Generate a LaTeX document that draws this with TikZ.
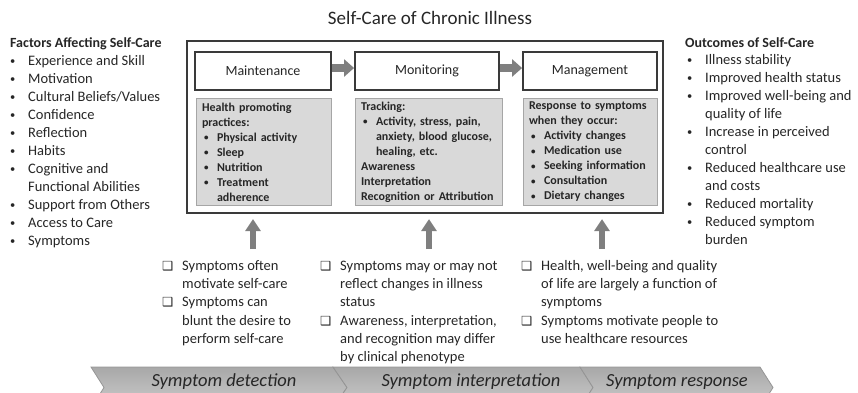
\documentclass[tikz,border=0pt]{standalone}
\usepackage{fontspec}
\setmainfont{Carlito}
\newfontfamily\djv{DejaVu Sans}
\usetikzlibrary{arrows.meta}
\definecolor{txt}{HTML}{262626}
\definecolor{outerc}{HTML}{3A3A3A}
\definecolor{gfill}{HTML}{D9D9D9}
\definecolor{gline}{HTML}{A6A6A6}
\definecolor{arrc}{HTML}{7F7F7F}
\definecolor{bandtop}{HTML}{A8A8A8}
\definecolor{bandbot}{HTML}{CCCCCC}
\definecolor{bandline}{HTML}{959595}
\newcommand{\mybul}{\makebox[19pt][l]{\hspace{1pt}\raisebox{0.8pt}{\fontsize{10.5}{10}\selectfont •}}}
\newcommand{\myind}{\hspace*{19pt}}
\newcommand{\mysbul}{\makebox[15pt][l]{\hspace{2pt}\raisebox{0.6pt}{\fontsize{9}{9}\selectfont •}}}
\newcommand{\mysind}{\hspace*{15pt}}
\newcommand{\mychk}{\makebox[20pt][l]{\raisebox{0pt}{\djv\fontsize{12.5}{10}\selectfont ❑}}}
\newcommand{\mychind}{\hspace*{20pt}}
\tikzset{
  lst/.style={anchor=north west, inner sep=0pt, align=left, text=txt,
    font=\fontsize{14.5}{18}\selectfont},
  blst/.style={anchor=north west, inner sep=0pt, align=left, text=txt,
    font=\fontsize{14.5}{18.3}\selectfont},
  head/.style={anchor=base west, inner sep=0pt, text=txt,
    font=\bfseries\fontsize{14}{16}\selectfont},
  hbox/.style={draw=outerc, line width=1.8pt, fill=white, inner sep=0pt,
    text=txt, font=\fontsize{14}{16}\selectfont},
  gbox/.style={anchor=north west, draw=gline, fill=gfill, line width=1pt,
    inner xsep=5.5pt, inner ysep=0pt, align=left, text=txt,
    minimum height=107pt, font=\bfseries\fontsize{12}{15}\selectfont},
  outerbox/.style={draw=outerc, line width=2.2pt, inner sep=0pt},
  harrow/.style={draw=arrc, line width=8pt, -{Triangle[length=10pt,width=17pt]}},
  uarrow/.style={draw=arrc, line width=6pt, -{Triangle[length=12pt,width=15pt]},
    shorten >=5pt},
  chevshape/.style={draw=bandline, line width=0.8pt, top color=bandtop, bottom color=bandbot},
  chevtext/.style={anchor=base, inner sep=0pt, text=txt,
    font=\itshape\fontsize{18.5}{20}\selectfont},
}
\begin{document}
\begin{tikzpicture}[x=1pt, y=-1pt]
\useasboundingbox (0,0) rectangle (858,392);

% title
\node[text=txt, font=\fontsize{19}{21}\selectfont, inner sep=0pt] (title) at (430,18) {Self-Care of Chronic Illness};

% left column
\node[head] (lefthead) at (10,47) {Factors Affecting Self-Care};
\node[lst] (leftlist) at (9,52.4) {\strut\mybul Experience and Skill\\
\mybul Motivation\\
\mybul Cultural Beliefs/Values\\
\mybul Confidence\\
\mybul Reflection\\
\mybul Habits\\
\mybul Cognitive and\\
\myind Functional Abilities\\
\mybul Support from Others\\
\mybul Access to Care\\
\mybul Symptoms};

% right column
\node[head] (righthead) at (685,47) {Outcomes of Self-Care};
\node[lst] (rightlist) at (686,51.4) {\strut\mybul Illness stability\\
\mybul Improved health status\\
\mybul Improved well-being and\\
\myind quality of life\\
\mybul Increase in perceived\\
\myind control\\
\mybul Reduced healthcare use\\
\myind and costs\\
\mybul Reduced mortality\\
\mybul Reduced symptom\\
\myind burden};

% outer frame
\node[outerbox, minimum width=476pt, minimum height=172pt] (outer) at (425,127) {};

% header boxes
\node[hbox, minimum width=136pt, minimum height=38pt] (maint) at (263,71) {Maintenance};
\node[hbox, minimum width=144pt, minimum height=38pt] (monit) at (427,71) {Monitoring};
\node[hbox, minimum width=134pt, minimum height=38pt] (manag) at (590,71) {Management};

\draw[harrow] ([yshift=3pt]maint.east) -- ([yshift=3pt]monit.west);
\draw[harrow] ([yshift=3pt]monit.east) -- ([yshift=3pt]manag.west);

% gray boxes
\node[gbox, text width=124pt] (mbox) at (196,98) {Health promoting\\
practices:\\
\mysbul Physical activity\\
\mysbul Sleep\\
\mysbul Nutrition\\
\mysbul Treatment\\
\mysind adherence};
\node[gbox, text width=136pt] (tbox) at (355,98) {Tracking:\\
\mysbul Activity, stress, pain,\\
\mysind anxiety, blood glucose,\\
\mysind healing, etc.\\
Awareness\\
Interpretation\\
Recognition or Attribution};
\node[gbox, text width=123pt] (rbox) at (523,98) {Response to symptoms\\
when they occur:\\
\mysbul Activity changes\\
\mysbul Medication use\\
\mysbul Seeking information\\
\mysbul Consultation\\
\mysbul Dietary changes};

% up arrows
\coordinate (u1) at (253,249);
\coordinate (u2) at (429,249);
\coordinate (u3) at (602,249);
\draw[uarrow] (u1) -- (u1 |- outer.south);
\draw[uarrow] (u2) -- (u2 |- outer.south);
\draw[uarrow] (u3) -- (u3 |- outer.south);

% bottom notes
\node[blst] (note1) at (162,257.2) {\strut\mychk Symptoms often\\
\mychind motivate self-care\\
\mychk Symptoms can\\
\mychind blunt the desire to\\
\mychind perform self-care};
\node[blst] (note2) at (320,257.2) {\strut\mychk Symptoms may or may not\\
\mychind reflect changes in illness\\
\mychind status\\
\mychk Awareness, interpretation,\\
\mychind and recognition may differ\\
\mychind by clinical phenotype};
\node[blst] (note3) at (521,257.2) {\strut\mychk Health, well-being and quality\\
\mychind of life are largely a function of\\
\mychind symptoms\\
\mychk Symptoms motivate people to\\
\mychind use healthcare resources};

% chevron band
\path[chevshape] (91,367) -- (333,367) -- (347,387.5) -- (333,408) -- (91,408) -- (104,387.5) -- cycle;
\path[chevshape] (333,367) -- (580,367) -- (593,387.5) -- (580,408) -- (333,408) -- (347,387.5) -- cycle;
\path[chevshape] (580,367) -- (760,367) -- (773,387.5) -- (760,408) -- (580,408) -- (593,387.5) -- cycle;
\node[chevtext] (c1) at (224,386) {Symptom detection};
\node[chevtext] (c2) at (471,386) {Symptom interpretation};
\node[chevtext] (c3) at (677,386) {Symptom response};
\end{tikzpicture}
\end{document}
